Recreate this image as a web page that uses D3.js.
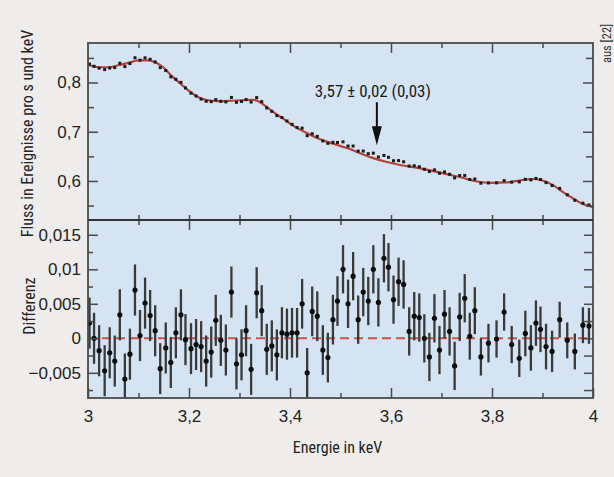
<!DOCTYPE html>
<html><head><meta charset="utf-8">
<script src="https://cdn.jsdelivr.net/npm/d3@7"></script>
<style>
html,body{margin:0;padding:0;background:#eeedeb;}
svg{display:block;font-family:"Liberation Sans Narrow","Arial Narrow","Roboto Condensed",sans-serif;}
</style></head><body>
<svg id="chart" width="614" height="477"></svg>
<script>
// ---- data ----
const energy = [3.003,3.012,3.022,3.033,3.043,3.053,3.063,3.073,3.083,3.093,
  3.103,3.113,3.123,3.133,3.143,3.154,3.164,3.174,3.184,3.193,
  3.204,3.214,3.224,3.234,3.244,3.253,3.263,3.273,3.284,3.294,
  3.304,3.313,3.323,3.334,3.344,3.354,3.364,3.374,3.384,3.394,
  3.404,3.414,3.424,3.434,3.444,3.454,3.465,3.475,3.485,3.494,
  3.505,3.515,3.525,3.535,3.545,3.555,3.565,3.575,3.586,3.595,
  3.605,3.615,3.625,3.636,3.646,3.656,3.666,3.676,3.686,3.696,
  3.706,3.716,3.726,3.736,3.746,3.756,3.766,3.778,3.793,3.809,
  3.824,3.839,3.854,3.866,3.877,3.887,3.896,3.907,3.919,3.934,
  3.949,3.964,3.980,3.992];
const flux = [0.8375,0.8330,0.8292,0.8263,0.8295,0.8303,0.8392,0.8324,0.8385,0.8503,
  0.8454,0.8501,0.8473,0.8418,0.8303,0.8243,0.8116,0.8067,0.8003,0.7890,
  0.7784,0.7727,0.7664,0.7619,0.7612,0.7652,0.7618,0.7607,0.7697,0.7598,
  0.7616,0.7655,0.7604,0.7694,0.7612,0.7484,0.7414,0.7328,0.7290,0.7218,
  0.7150,0.7086,0.7073,0.6920,0.6959,0.6906,0.6813,0.6765,0.6785,0.6782,
  0.6795,0.6710,0.6710,0.6607,0.6607,0.6554,0.6565,0.6487,0.6518,0.6481,
  0.6411,0.6414,0.6390,0.6303,0.6309,0.6288,0.6238,0.6191,0.6225,0.6156,
  0.6184,0.6136,0.6063,0.6110,0.6112,0.6030,0.6040,0.5955,0.5960,0.5962,
  0.6006,0.5976,0.5981,0.6033,0.6023,0.6052,0.6029,0.5967,0.5906,0.5849,
  0.5719,0.5607,0.5549,0.5512];
const residual = [0.0022,0.0000,-0.0018,-0.0047,-0.0021,-0.0033,0.0034,-0.0059,-0.0023,0.0070,
  0.0004,0.0051,0.0033,0.0011,-0.0044,-0.0014,-0.0035,0.0008,0.0034,-0.0002,
  -0.0015,-0.0009,-0.0012,-0.0033,-0.0020,0.0026,-0.0003,-0.0017,0.0067,-0.0037,
  -0.0024,0.0011,-0.0045,0.0066,0.0040,-0.0016,-0.0011,-0.0024,0.0008,0.0006,
  0.0008,0.0008,0.0050,-0.0050,0.0039,0.0032,-0.0017,-0.0028,0.0027,0.0054,
  0.0100,0.0050,0.0090,0.0027,0.0067,0.0054,0.0100,0.0052,0.0116,0.0103,
  0.0056,0.0082,0.0078,0.0010,0.0032,0.0030,0.0000,-0.0027,0.0029,-0.0017,
  0.0035,0.0010,-0.0040,0.0031,0.0058,0.0003,0.0040,-0.0027,-0.0007,-0.0001,
  0.0038,-0.0009,-0.0029,0.0007,-0.0014,0.0022,0.0013,-0.0012,-0.0019,0.0027,
  -0.0003,-0.0019,0.0019,0.0018];
const residualErr = [0.0037,0.0037,0.0037,0.0037,0.0037,0.0037,0.0037,0.0037,0.0037,0.0037,
  0.0037,0.0037,0.0037,0.0037,0.0037,0.0037,0.0037,0.0037,0.0037,0.0037,
  0.0037,0.0037,0.0037,0.0037,0.0037,0.0037,0.0037,0.0037,0.0037,0.0037,
  0.0037,0.0037,0.0037,0.0037,0.0037,0.0037,0.0037,0.0037,0.0037,0.0037,
  0.0036,0.0036,0.0036,0.0036,0.0036,0.0036,0.0036,0.0036,0.0036,0.0036,
  0.0035,0.0035,0.0035,0.0035,0.0035,0.0035,0.0035,0.0035,0.0035,0.0035,
  0.0035,0.0035,0.0035,0.0035,0.0035,0.0035,0.0035,0.0035,0.0035,0.0035,
  0.0035,0.0035,0.0035,0.0035,0.0035,0.0034,0.0034,0.0027,0.0028,0.0027,
  0.0027,0.0027,0.0027,0.0033,0.0033,0.0033,0.0033,0.0033,0.0030,0.0026,
  0.0026,0.0026,0.0026,0.0026];
const modelEnergy = [3.000,3.020,3.040,3.060,3.080,3.100,3.120,3.135,3.150,3.165,3.185,3.205,3.225,3.245,3.265,3.285,3.305,3.325,3.337,3.350,
  3.370,3.390,3.410,3.430,3.450,3.470,3.490,3.510,3.530,3.560,3.590,3.620,3.650,3.680,3.710,3.740,3.770,3.800,3.830,3.860,
  3.880,3.900,3.920,3.940,3.960,3.980,4.000];
const modelFlux = [0.836,0.831,0.831,0.835,0.840,0.845,0.845,0.840,0.830,0.814,0.796,0.779,0.767,0.763,0.762,0.763,0.764,0.765,0.762,0.753,
  0.738,0.724,0.710,0.699,0.689,0.681,0.674,0.668,0.660,0.648,0.639,0.632,0.627,0.621,0.614,0.607,0.599,0.596,0.597,0.602,
  0.604,0.601,0.592,0.578,0.565,0.553,0.547];

const xMajorTicks = [3, 3.2, 3.4, 3.6, 3.8, 4];
const xTickLabels = ["3", "3,2", "3,4", "3,6", "3,8", "4"];
const xMinorTicks = [3.1, 3.3, 3.5, 3.7, 3.9];
const fluxMajorTicks = [0.6, 0.7, 0.8];
const fluxTickLabels = ["0,6", "0,7", "0,8"];
const fluxMinorTicks = [0.55, 0.65, 0.75, 0.85];
const diffMajorTicks = [-0.005, 0, 0.005, 0.01, 0.015];
const diffTickLabels = ["\u22120,005", "0", "0,005", "0,01", "0,015"];
const diffMinorTicks = [-0.0075, -0.0025, 0.0025, 0.0075, 0.0125];
const lineEnergy = 3.572;
const annotationText = "3,57 \u00b1 0,02 (0,03)";

// ---- layout ----
const L = 88, R = 593, T = 43, MID = 220, B = 398;
const svg = d3.select("#chart");
const frameColor = "#4a4a4a";
const panelFill = "#d4e4f2";

const x = d3.scaleLinear().domain([3, 4]).range([L, R]);
const yF = d3.scaleLinear().domain([0.5207, 0.8803]).range([MID, T]);
const yD = d3.scaleLinear().domain([-0.00865, 0.01714]).range([B, MID]);

svg.append("rect").attr("x", L).attr("y", T).attr("width", R - L).attr("height", B - T).attr("fill", panelFill);

// model curve
const line = d3.line().x((d, i) => x(modelEnergy[i])).y(d => yF(d)).curve(d3.curveMonotoneX);
svg.append("path").datum(modelFlux).attr("d", line)
  .attr("fill", "none").attr("stroke", "#b4443a").attr("stroke-width", 2.2);

// flux data points (small squares)
svg.append("g").selectAll("rect").data(flux).join("rect")
  .attr("x", (d, i) => x(energy[i]) - 1.5).attr("y", d => yF(d) - 1.5)
  .attr("width", 3).attr("height", 3).attr("fill", "#1a1a1a");

// zero line
svg.append("line").attr("x1", L).attr("x2", R).attr("y1", yD(0)).attr("y2", yD(0))
  .attr("stroke", "#c8534a").attr("stroke-width", 2).attr("stroke-dasharray", "9,5");

// residual error bars and dots
const clipId = "clipBottom";
svg.append("clipPath").attr("id", clipId).append("rect")
  .attr("x", L).attr("y", MID).attr("width", R - L).attr("height", B - MID);
const gRes = svg.append("g").attr("clip-path", `url(#${clipId})`);
gRes.selectAll("line").data(residual).join("line")
  .attr("x1", (d, i) => x(energy[i])).attr("x2", (d, i) => x(energy[i]))
  .attr("y1", (d, i) => yD(d - residualErr[i])).attr("y2", (d, i) => yD(d + residualErr[i]))
  .attr("stroke", "#3a3a3a").attr("stroke-width", 2.3);
gRes.selectAll("circle").data(residual).join("circle")
  .attr("cx", (d, i) => x(energy[i])).attr("cy", d => yD(d))
  .attr("r", 2.6).attr("fill", "#0d0d0d");

// ---- axes ----
function styleAxis(g) {
  g.select(".domain").remove();
  g.selectAll(".tick line").attr("stroke", frameColor).attr("stroke-width", 1.5);
  g.selectAll(".tick text").attr("fill", "#222").style("font-size", "17px");
}
// bottom x axis (labels)
svg.append("g").attr("transform", `translate(0,${B})`)
  .call(d3.axisBottom(x).tickValues(xMajorTicks).tickSize(-10).tickSizeOuter(0).tickPadding(12)
    .tickFormat((d, i) => xTickLabels[i]))
  .call(styleAxis);
svg.append("g").attr("transform", `translate(0,${B})`)
  .call(d3.axisBottom(x).tickValues(xMinorTicks).tickSize(-5).tickSizeOuter(0).tickFormat(""))
  .call(styleAxis);
// top edge
svg.append("g").attr("transform", `translate(0,${T})`)
  .call(d3.axisTop(x).tickValues(xMajorTicks.slice(1, -1)).tickSize(-10).tickSizeOuter(0).tickFormat(""))
  .call(styleAxis);
svg.append("g").attr("transform", `translate(0,${T})`)
  .call(d3.axisTop(x).tickValues(xMinorTicks).tickSize(-5).tickSizeOuter(0).tickFormat(""))
  .call(styleAxis);
// divider (ticks both sides)
svg.append("g").attr("transform", `translate(0,${MID})`)
  .call(d3.axisBottom(x).tickValues(xMajorTicks.slice(1, -1)).tickSize(10).tickSizeOuter(0).tickFormat(""))
  .call(styleAxis);
svg.append("g").attr("transform", `translate(0,${MID})`)
  .call(d3.axisBottom(x).tickValues(xMinorTicks).tickSize(5).tickSizeOuter(0).tickFormat(""))
  .call(styleAxis);
svg.append("g").attr("transform", `translate(0,${MID})`)
  .call(d3.axisTop(x).tickValues(xMajorTicks.slice(1, -1).concat(xMinorTicks)).tickSize(5).tickSizeOuter(0).tickFormat(""))
  .call(styleAxis);
// left flux axis
svg.append("g").attr("transform", `translate(${L},0)`)
  .call(d3.axisLeft(yF).tickValues(fluxMajorTicks).tickSize(-10).tickSizeOuter(0).tickPadding(7)
    .tickFormat((d, i) => fluxTickLabels[i]))
  .call(styleAxis);
svg.append("g").attr("transform", `translate(${L},0)`)
  .call(d3.axisLeft(yF).tickValues(fluxMinorTicks).tickSize(-6).tickSizeOuter(0).tickFormat(""))
  .call(styleAxis);
// right flux axis
svg.append("g").attr("transform", `translate(${R},0)`)
  .call(d3.axisRight(yF).tickValues(fluxMajorTicks).tickSize(-10).tickSizeOuter(0).tickFormat(""))
  .call(styleAxis);
svg.append("g").attr("transform", `translate(${R},0)`)
  .call(d3.axisRight(yF).tickValues(fluxMinorTicks).tickSize(-7).tickSizeOuter(0).tickFormat(""))
  .call(styleAxis);
// left diff axis
svg.append("g").attr("transform", `translate(${L},0)`)
  .call(d3.axisLeft(yD).tickValues(diffMajorTicks).tickSize(-10).tickSizeOuter(0).tickPadding(7)
    .tickFormat((d, i) => diffTickLabels[i]))
  .call(styleAxis);
svg.append("g").attr("transform", `translate(${L},0)`)
  .call(d3.axisLeft(yD).tickValues(diffMinorTicks).tickSize(-5).tickSizeOuter(0).tickFormat(""))
  .call(styleAxis);
// right diff axis
svg.append("g").attr("transform", `translate(${R},0)`)
  .call(d3.axisRight(yD).tickValues(diffMajorTicks).tickSize(-9).tickSizeOuter(0).tickFormat(""))
  .call(styleAxis);
svg.append("g").attr("transform", `translate(${R},0)`)
  .call(d3.axisRight(yD).tickValues(diffMinorTicks).tickSize(-9).tickSizeOuter(0).tickFormat(""))
  .call(styleAxis);

// frames
svg.append("rect").attr("x", L).attr("y", T).attr("width", R - L).attr("height", B - T)
  .attr("fill", "none").attr("stroke", frameColor).attr("stroke-width", 1.8);
svg.append("line").attr("x1", L).attr("x2", R).attr("y1", MID).attr("y2", MID)
  .attr("stroke", "#333").attr("stroke-width", 1.8);

// annotation
const ax = x(lineEnergy);
svg.append("text").attr("x", ax - 4).attr("y", yF(0.7703)).attr("text-anchor", "middle")
  .attr("fill", "#1a1a1a").style("font-size", "17px").text(annotationText);
svg.append("line").attr("x1", ax).attr("x2", ax).attr("y1", yF(0.760)).attr("y2", yF(0.690))
  .attr("stroke", "#111").attr("stroke-width", 2);
const tipY = yF(0.6728);
svg.append("path").attr("d", `M${ax},${tipY} L${ax - 5},${tipY - 19} L${ax + 5},${tipY - 19} Z`).attr("fill", "#111");

// axis titles
svg.append("text").attr("transform", `translate(33,${(T + MID) / 2 + 2}) rotate(-90)`)
  .attr("text-anchor", "middle").attr("fill", "#222").style("font-size", "16px")
  .text("Fluss in Ereignisse pro s und keV");
svg.append("text").attr("transform", `translate(35,306) rotate(-90)`)
  .attr("text-anchor", "middle").attr("fill", "#222").style("font-size", "16px")
  .text("Differenz");
svg.append("text").attr("x", (L + R) / 2 - 3).attr("y", 453).attr("text-anchor", "middle")
  .attr("fill", "#222").style("font-size", "16px").text("Energie in keV");
svg.append("text").attr("transform", `translate(611,63) rotate(-90)`)
  .attr("text-anchor", "start").attr("fill", "#333").style("font-size", "12.5px").text("aus [22]");
</script>
</body></html>
